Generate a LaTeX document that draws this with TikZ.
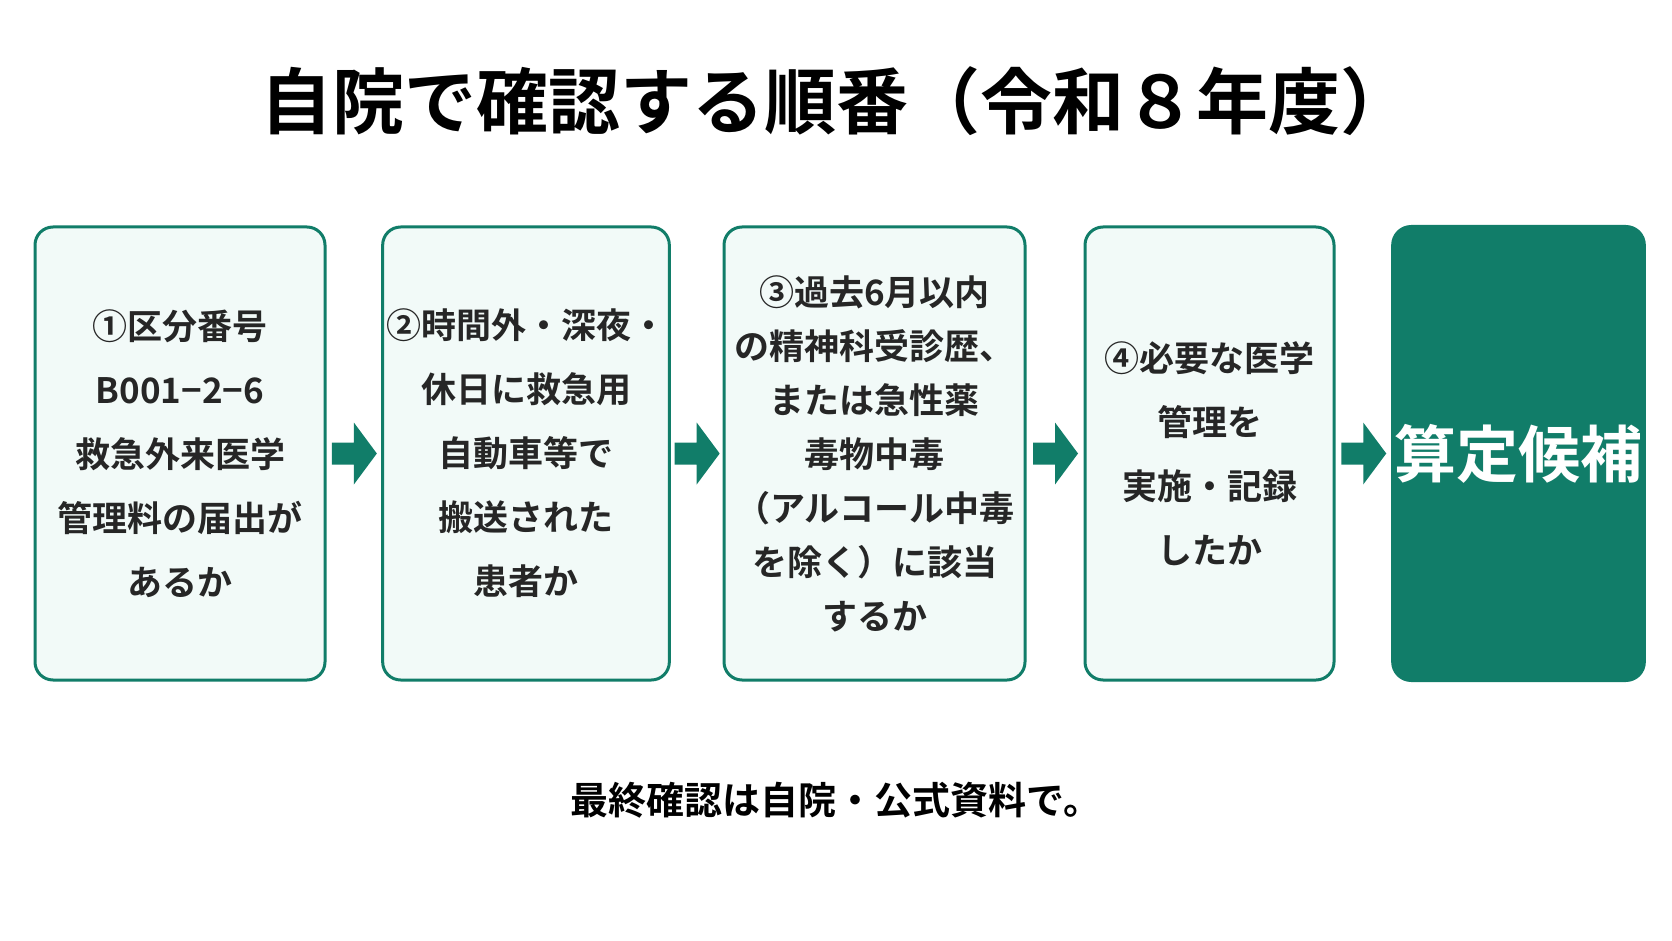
\documentclass[tikz,border=0pt]{standalone}
\usepackage{fontspec}
\setmainfont{Noto Sans CJK JP}[BoldFont={* Bold}]
\begin{document}
\definecolor{gr}{HTML}{117D69}
\definecolor{lt}{HTML}{F2FAF8}
\begin{tikzpicture}[x=1pt,y=-1pt,
  box/.style={draw=gr,line width=3pt,fill=lt,rounded corners=18pt,align=center,font=\bfseries\fontsize{35}{64}\selectfont,text=black!85},
  arr/.style={fill=gr,draw=none}]
\useasboundingbox[fill=white] (0,0) rectangle (1672,941);
\node[font=\bfseries\fontsize{72}{80}\selectfont] (t) at (836,101) {自院で確認する順番（令和８年度）};
\node[box,minimum width=290pt,minimum height=453pt] (b1) at (180,453.5) {①区分番号\\B001−2−6\\救急外来医学\\管理料の届出が\\あるか};
\node[box,minimum width=280pt,minimum height=453pt] (b2) at (526,453.5) {②時間外・深夜・\\休日に救急用\\自動車等で\\搬送された\\患者か};
\node[box,minimum width=301pt,minimum height=453pt,font=\bfseries\fontsize{35}{54}\selectfont] (b3) at (874.5,453.5) {③過去6月以内\\の精神科受診歴、\\または急性薬\\毒物中毒\\（アルコール中毒\\を除く）に該当\\するか};
\node[box,minimum width=249pt,minimum height=453pt] (b4) at (1209.5,453.5) {④必要な医学\\管理を\\実施・記録\\したか};
\node[fill=gr,rounded corners=20pt,minimum width=241pt,minimum height=457pt,text=white,font=\bfseries\fontsize{62}{70}\selectfont] (b5) at (1518.5,453.5) {算定候補};
\foreach \a/\b in {b1/b2,b2/b3,b3/b4,b4/b5}{
  \path (\a.east) -- coordinate[pos=0.5] (m\a) (\b.west);
  \fill[gr] ([xshift=-22pt,yshift=-11pt]m\a) -- ([xshift=0pt,yshift=-11pt]m\a) -- ([xshift=0pt,yshift=-31pt]m\a) -- ([xshift=23pt]m\a) -- ([xshift=0pt,yshift=31pt]m\a) -- ([xshift=0pt,yshift=11pt]m\a) -- ([xshift=-22pt,yshift=11pt]m\a) -- cycle;
}
\node[font=\bfseries\fontsize{38}{44}\selectfont] (f) at (836,800) {最終確認は自院・公式資料で。};
\end{tikzpicture}
\end{document}
